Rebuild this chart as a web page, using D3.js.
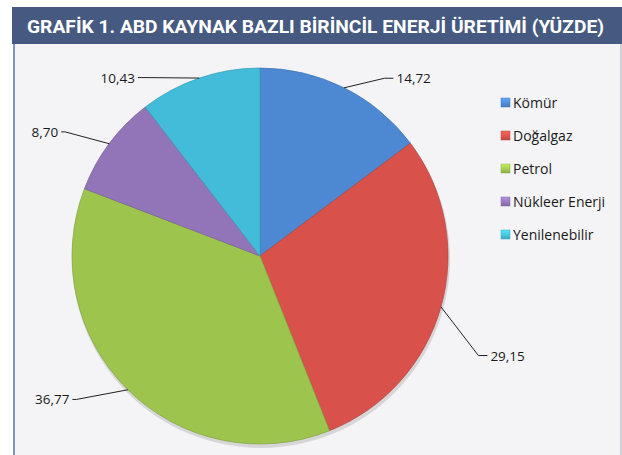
<!DOCTYPE html>
<html>
<head>
  <script src="https://d3js.org/d3.v7.min.js"></script>
  <style>
    body { margin: 0; background: #fff; font-family: "Open Sans", sans-serif; }
    .title { font-family: Roboto, sans-serif; font-weight: bold; font-size: 19px; fill: #fff; }
    .lbl { font-size: 13.5px; fill: #1a1a1a; }
    .leg { font-size: 14px; fill: #1a1a1a; }
    .leader { fill: none; stroke: #222; stroke-width: 1; }
  </style>
</head>
<body>
<svg id="chart" width="622" height="455"></svg>
<script>
  // data
  const categories = ["Kömür", "Doğalgaz", "Petrol", "Nükleer Enerji", "Yenilenebilir"];
  const values = [14.72, 29.15, 36.77, 8.70, 10.43];
  const colors = ["#4d89d3", "#d8514a", "#9dc44d", "#9275b8", "#42bcd9"];
  const title = "GRAFİK 1. ABD KAYNAK BAZLI BİRİNCİL ENERJİ ÜRETİMİ (YÜZDE)";

  // label elbow placement (angle deg, radius) - layout only
  const labelPlace = [[35, 217], [114.5, 240], [232, 233], [302.5, 231], [326.5, 214]];

  const W = 622, H = 455;
  const cx = 260, cy = 256, r = 188;
  const fmt = v => v.toFixed(2).replace(".", ",");

  const svg = d3.select("#chart");
  const defs = svg.append("defs");

  // panel
  svg.append("rect").attr("x", 13).attr("y", 7).attr("width", W - 13).attr("height", H - 7).attr("fill", "#f4f4f7");
  svg.append("rect").attr("x", 13).attr("y", 43).attr("width", 2).attr("height", H - 43).attr("fill", "#8191c9");
  svg.append("rect").attr("x", 620).attr("y", 43).attr("width", 2).attr("height", H - 43).attr("fill", "#cfd0d8");

  // title bar
  svg.append("rect").attr("x", 12).attr("y", 7).attr("width", W - 12).attr("height", 37).attr("fill", "#465a81");
  svg.append("text").attr("class", "title")
    .attr("x", 27).attr("y", 33)
    .attr("textLength", 577).attr("lengthAdjust", "spacingAndGlyphs")
    .text(title);

  // legend key gradients
  colors.forEach((c, i) => {
    const lg = defs.append("linearGradient").attr("id", "lg" + i)
      .attr("x1", 0).attr("y1", 0).attr("x2", 0).attr("y2", 1);
    lg.append("stop").attr("offset", "0%").attr("stop-color", d3.color(c).brighter(0.6));
    lg.append("stop").attr("offset", "100%").attr("stop-color", d3.color(c).darker(0.3));
  });

  const pie = d3.pie().sort(null).value(d => d)(values);
  const arc = d3.arc().innerRadius(0).outerRadius(r);

  const g = svg.append("g").attr("transform", `translate(${cx},${cy})`);
  // soft shadow under the pie
  g.append("circle").attr("cx", 1).attr("cy", 3).attr("r", r + 1)
    .attr("fill", "#000").attr("opacity", 0.12);
  g.selectAll("path.slice").data(pie).enter().append("path")
      .attr("class", "slice")
      .attr("d", arc)
      .attr("fill", (d, i) => colors[i])
      .attr("stroke", (d, i) => d3.color(colors[i]).darker(0.5))
      .attr("stroke-width", 0.7);

  // leader lines + labels
  const rad = a => a * Math.PI / 180;
  pie.forEach((d, i) => {
    const mid = (d.startAngle + d.endAngle) / 2;
    const p0 = [cx + r * Math.sin(mid), cy - r * Math.cos(mid)];
    const [ang, rr] = labelPlace[i];
    const p1 = [cx + rr * Math.sin(rad(ang)), cy - rr * Math.cos(rad(ang))];
    const right = p1[0] > cx;
    const p2 = [p1[0] + (right ? 9 : -4), p1[1]];
    svg.append("path").attr("class", "leader")
      .attr("d", d3.line()([p0, p1, p2]));
    svg.append("text").attr("class", "lbl")
      .attr("x", p2[0] + (right ? 3 : -3)).attr("y", p2[1] + 5)
      .attr("text-anchor", right ? "start" : "end")
      .text(fmt(values[i]));
  });

  // legend
  const leg = svg.append("g").attr("transform", "translate(501,103)");
  const rows = leg.selectAll("g").data(categories).enter().append("g")
    .attr("transform", (d, i) => `translate(0,${i * 33})`);
  rows.append("rect").attr("x", 0).attr("y", -5).attr("width", 9).attr("height", 9)
    .attr("fill", (d, i) => `url(#lg${i})`)
    .attr("stroke", (d, i) => d3.color(colors[i]).darker(0.4)).attr("stroke-width", 0.5);
  rows.append("text").attr("class", "leg").attr("x", 12).attr("y", 5).text(d => d);
</script>
</body>
</html>
